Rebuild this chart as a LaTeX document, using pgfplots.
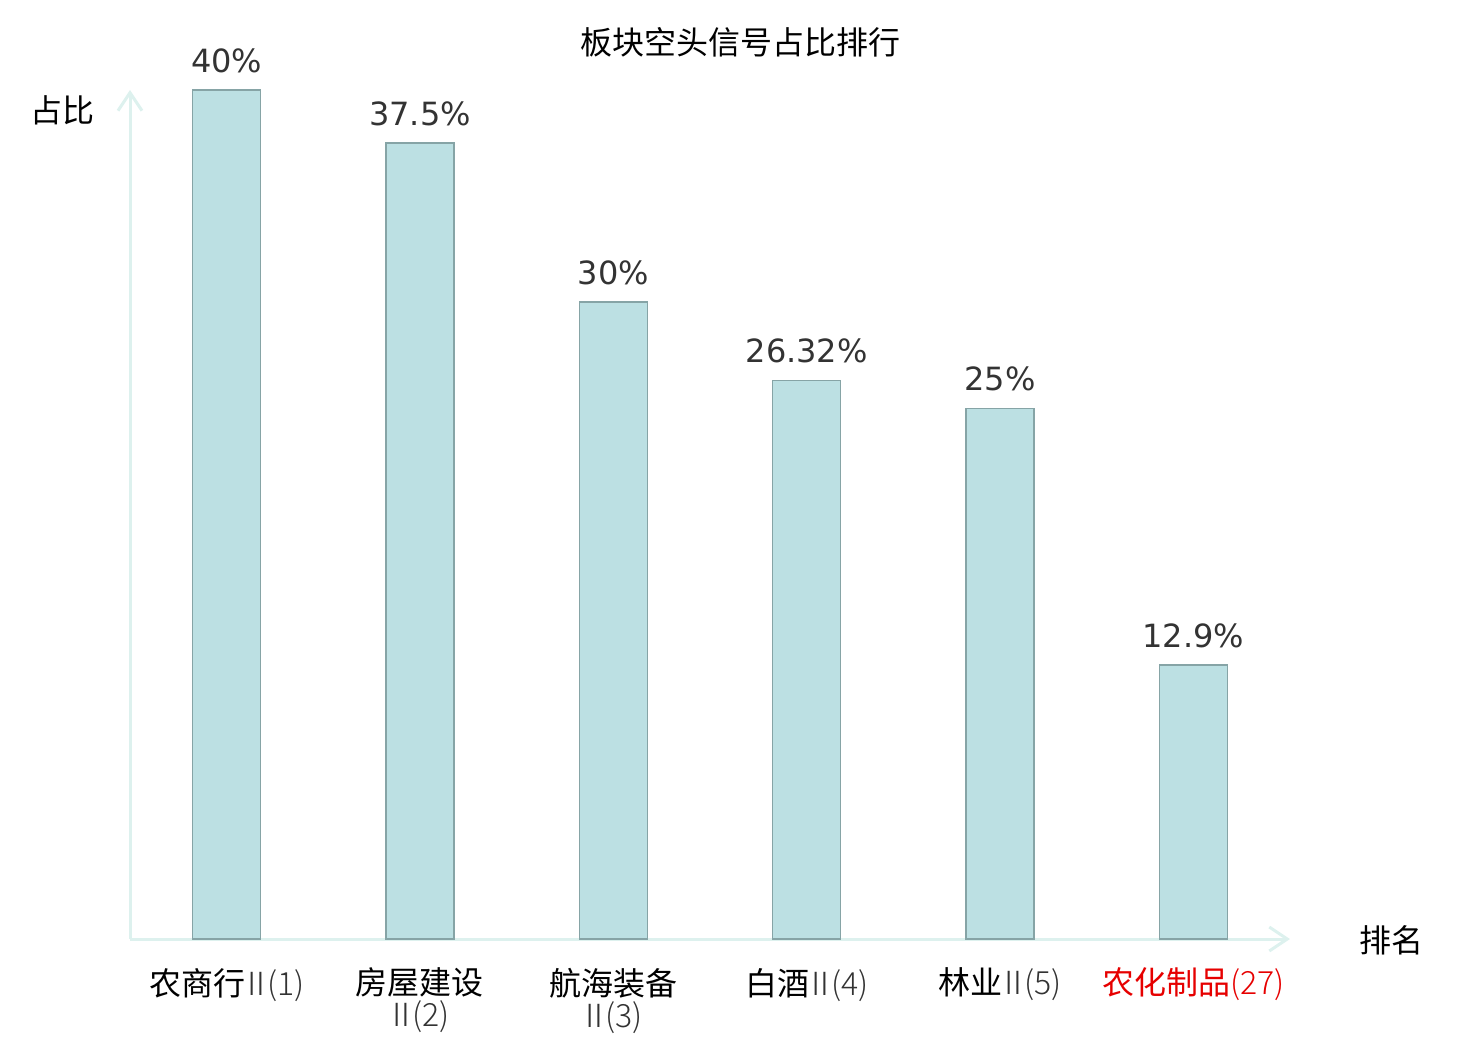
\documentclass[border=0pt]{standalone}
\usepackage{pgfplots}
\pgfplotsset{compat=1.18}
\usetikzlibrary{arrows.meta}
\usepackage{fontspec}
\setmainfont{DejaVu Sans}
\newfontfamily\cjk{Noto Sans CJK SC}
\newfontfamily\cjklight{Noto Sans CJK SC Light}
\newcommand{\rn}[1]{{\cjklight\textcolor{valcol}{\kern-2.5pt Ⅱ\kern-2.5pt(#1)}}}
\definecolor{barfill}{HTML}{BCE0E3}
\definecolor{baredge}{HTML}{86A4A6}
\definecolor{axcol}{HTML}{DDF1EE}
\definecolor{valcol}{HTML}{333333}
\definecolor{lblred}{HTML}{E60000}
\begin{document}
\begin{tikzpicture}
\useasboundingbox (0,0) rectangle (740pt,520pt);
\begin{axis}[
  at={(65pt,50.5pt)}, anchor=south west,
  scale only axis, width=580pt, height=424.5pt,
  xmin=-0.5, xmax=5.5, ymin=0, ymax=40,
  axis x line=bottom, axis y line=left,
  axis line style={axcol, line width=1.5pt, -{Straight Barb[length=9pt,width=12pt,line width=1.5pt]}},
  clip=false,
  ytick=\empty,
  xtick={0,1,2,3,4,5},
  major tick length=0pt,
  xticklabels={
    {\cjk 农商行\rn{1}},
    {\cjk 房屋建设\\\rn{2}},
    {\cjk 航海装备\\\rn{3}},
    {\cjk 白酒\rn{4}},
    {\cjk 林业\rn{5}},
    {\cjk\textcolor{lblred}{农化制品{\cjklight(27)}}}
  },
  xticklabel style={font=\fontsize{16pt}{16pt}\selectfont, align=center, text=black, yshift=-11pt},
  nodes near coords,
  point meta=explicit symbolic,
  every node near coord/.append style={font=\fontsize{16pt}{18pt}\selectfont, text=valcol, anchor=south, yshift=5pt},
]
\addplot[ybar, bar width=34pt, fill=barfill, draw=baredge, line width=0.8pt] coordinates {
  (0,40) [40\%]
  (1,37.5) [37.5\%]
  (2,30) [30\%]
  (3,26.32) [26.32\%]
  (4,25) [25\%]
  (5,12.9) [12.9\%]
};
\end{axis}
\node[font=\cjk\fontsize{16pt}{16pt}\selectfont] at (370pt,499pt) {板块空头信号占比排行};
\node[font=\cjk\fontsize{16pt}{16pt}\selectfont] at (31.5pt,465pt) {占比};
\node[font=\cjk\fontsize{16pt}{16pt}\selectfont] at (695.5pt,50pt) {排名};
\end{tikzpicture}
\end{document}
